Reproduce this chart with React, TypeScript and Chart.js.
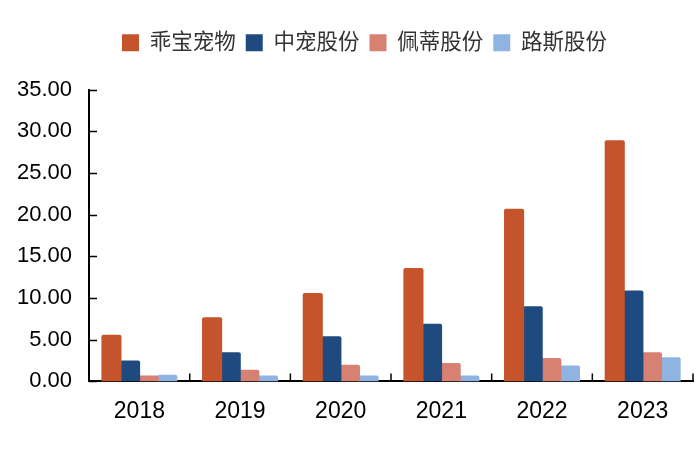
import { useEffect, useRef } from "react";
import { Chart, ChartConfiguration, Plugin, registerables } from "chart.js";

Chart.register(...registerables);

const years = ["2018", "2019", "2020", "2021", "2022", "2023"];
const guaibao = [5.6, 7.7, 10.6, 13.6, 20.7, 28.9];
const zhongchong = [2.5, 3.5, 5.4, 6.9, 9.0, 10.9];
const peidi = [0.7, 1.4, 2.0, 2.2, 2.8, 3.5];
const lusi = [0.8, 0.7, 0.7, 0.7, 1.9, 2.9];

const FONT = "Arial, 'Liberation Sans', 'Noto Sans CJK SC', sans-serif";

// extra room under the legend, and nudge it to the right
const legendGap: Plugin<"bar"> = {
  id: "legendGap",
  beforeInit(chart) {
    const legend: any = (chart as any).legend;
    if (!legend) return;
    const fit = legend.fit;
    legend.fit = function () {
      fit.bind(this)();
      this.height += 26;
    };
  },
  afterLayout(chart) {
    const legend: any = (chart as any).legend;
    if (!legend) return;
    legend.left += 18;
    legend.right += 18;
  },
};

// inner tick marks on both axes
const innerTicks: Plugin<"bar"> = {
  id: "innerTicks",
  afterDraw(chart) {
    const { ctx, chartArea, scales } = chart;
    const y = scales.y;
    const x = scales.x;
    ctx.save();
    ctx.strokeStyle = "#000";
    ctx.lineWidth = 1.5;
    ctx.beginPath();
    y.ticks.forEach((t) => {
      const py = Math.round(y.getPixelForValue(t.value)) + 0.5;
      ctx.moveTo(chartArea.left, py);
      ctx.lineTo(chartArea.left + 8, py);
    });
    const step = (chartArea.right - chartArea.left) / years.length;
    for (let i = 1; i <= years.length; i++) {
      const px = x.getPixelForValue(i - 1) + step / 2;
      ctx.moveTo(px, chartArea.bottom);
      ctx.lineTo(px, chartArea.bottom - 8);
    }
    ctx.stroke();
    ctx.restore();
  },
};

export default function App() {
  const canvasRef = useRef<HTMLCanvasElement>(null);
  const chartRef = useRef<Chart | null>(null);

  useEffect(() => {
    document.body.style.margin = "0";
    if (!canvasRef.current) return;
    if (chartRef.current) chartRef.current.destroy();
    const ctx = canvasRef.current.getContext("2d");
    if (!ctx) return;

    const bar = { borderRadius: 2, borderSkipped: "bottom" as const, categoryPercentage: 0.74, barPercentage: 1.08 };

    const config: ChartConfiguration<"bar"> = {
      type: "bar",
      data: {
        labels: years,
        datasets: [
          { label: "乖宝宠物", data: guaibao, backgroundColor: "#C5532B", ...bar },
          { label: "中宠股份", data: zhongchong, backgroundColor: "#1F4A80", ...bar },
          { label: "佩蒂股份", data: peidi, backgroundColor: "#D78173", ...bar },
          { label: "路斯股份", data: lusi, backgroundColor: "#8FB4E2", ...bar },
        ],
      },
      options: {
        animation: false,
        responsive: true,
        maintainAspectRatio: false,
        layout: { padding: { left: 0, right: 7, top: 22, bottom: 23 } },
        plugins: {
          legend: {
            position: "top",
            labels: {
              boxWidth: 17,
              boxHeight: 17,
              padding: 10,
              color: "#333",
              font: { family: FONT, size: 21.5 },
            },
          },
          tooltip: { enabled: false },
        },
        scales: {
          x: {
            grid: { display: false, drawTicks: false },
            border: { display: true, color: "#000", width: 2 },
            ticks: { color: "#000", font: { family: FONT, size: 23 }, padding: 16 },
          },
          y: {
            min: 0,
            max: 35,
            grid: { display: false, drawTicks: false },
            border: { display: true, color: "#000", width: 2 },
            ticks: {
              stepSize: 5,
              color: "#000",
              padding: 17,
              font: { family: FONT, size: 22 },
              callback: (v) => Number(v).toFixed(2),
            },
          },
        },
      },
      plugins: [legendGap, innerTicks],
    };

    chartRef.current = new Chart(ctx, config);
    return () => {
      if (chartRef.current) {
        chartRef.current.destroy();
        chartRef.current = null;
      }
    };
  }, []);

  return (
    <div style={{ width: 700, height: 464 }}>
      <canvas ref={canvasRef} />
    </div>
  );
}
